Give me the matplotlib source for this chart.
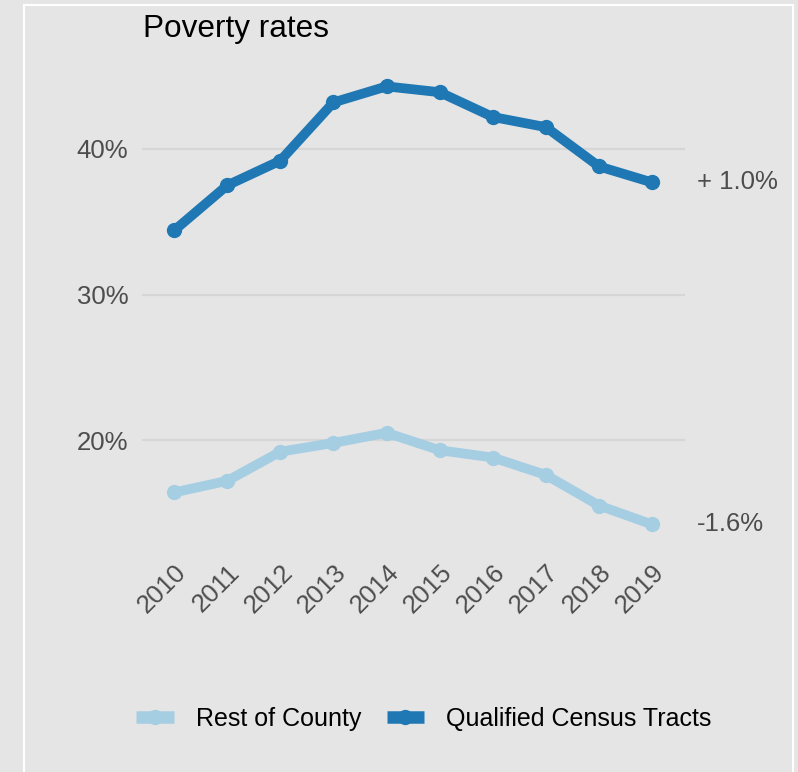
import matplotlib.pyplot as plt
from matplotlib.lines import Line2D
from matplotlib.patches import Rectangle
from matplotlib.ticker import FuncFormatter

plt.rcParams['font.family'] = ['Liberation Sans', 'DejaVu Sans']

# poverty rates (%) by year
years = [2010, 2011, 2012, 2013, 2014, 2015, 2016, 2017, 2018, 2019]
qct_rates = [34.4, 37.5, 39.2, 43.2, 44.3, 43.9, 42.2, 41.5, 38.8, 37.7]
rest_rates = [16.4, 17.2, 19.2, 19.8, 20.5, 19.3, 18.8, 17.6, 15.5, 14.2]
y_ticks = [20, 30, 40]
qct_label = '+ 1.0%'
rest_label = '-1.6%'

bg = '#e5e5e5'
dark = '#1f78b4'
light = '#a6cee3'
grey_text = '#4d4d4d'

fig = plt.figure(figsize=(7.98, 7.72), dpi=100, facecolor=bg)
ax = fig.add_axes([0.178, 0.298, 0.6805, 0.6127])
ax.set_facecolor(bg)

# white frame around the panel, open at the bottom
fig.patches.append(Rectangle((24 / 798, -0.05), (793 - 24) / 798, 1.05 - 5 / 772,
                             transform=fig.transFigure, facecolor='none',
                             edgecolor='white', lw=1.5, zorder=0))

for vals, col in [(rest_rates, light), (qct_rates, dark)]:
    ax.plot(years, vals, color=col, lw=7, marker='o', markersize=10,
            solid_joinstyle='round', solid_capstyle='round', zorder=3)

ax.set_xlim(2009.396, 2019.62)
ax.set_ylim(13, 45.5)
ax.set_yticks(y_ticks)
ax.yaxis.set_major_formatter(FuncFormatter(lambda v, _: f'{v:.0f}%'))
ax.set_xticks(years)
ax.set_xticklabels([str(y) for y in years], rotation=45, ha='right', va='top',
                   rotation_mode='anchor')
ax.tick_params(axis='both', length=0, labelsize=18.5, labelcolor=grey_text)
ax.tick_params(axis='y', pad=10)
ax.tick_params(axis='x', pad=13)
ax.grid(axis='y', color='#d6d6d6', lw=1.6, zorder=1)
ax.grid(axis='x', visible=False)
for s in ax.spines.values():
    s.set_visible(False)

# change labels at the end of each line
ax.annotate(qct_label, xy=(years[-1], qct_rates[-1]), xytext=(32.5, 0),
            textcoords='offset points', va='center', ha='left',
            fontsize=18.5, color=grey_text, annotation_clip=False)
ax.annotate(rest_label, xy=(years[-1], rest_rates[-1]), xytext=(32.5, 0),
            textcoords='offset points', va='center', ha='left',
            fontsize=18.5, color=grey_text, annotation_clip=False)

fig.text(143 / 798, 1 - 37 / 772, 'Poverty rates', fontsize=22.7, color='black',
         ha='left', va='baseline')

handles = [Line2D([], [], color=light, lw=9, solid_capstyle='butt', marker='o', markersize=10),
           Line2D([], [], color=dark, lw=9, solid_capstyle='butt', marker='o', markersize=10)]
fig.legend(handles, ['Rest of County', 'Qualified Census Tracts'], loc='center',
           bbox_to_anchor=(424 / 798, 1 - 719 / 772), ncol=2, frameon=False,
           fontsize=18, handlelength=1.5, handletextpad=0.9, columnspacing=1.0,
           numpoints=1)

fig.savefig('out.png', dpi=100, facecolor=bg)
